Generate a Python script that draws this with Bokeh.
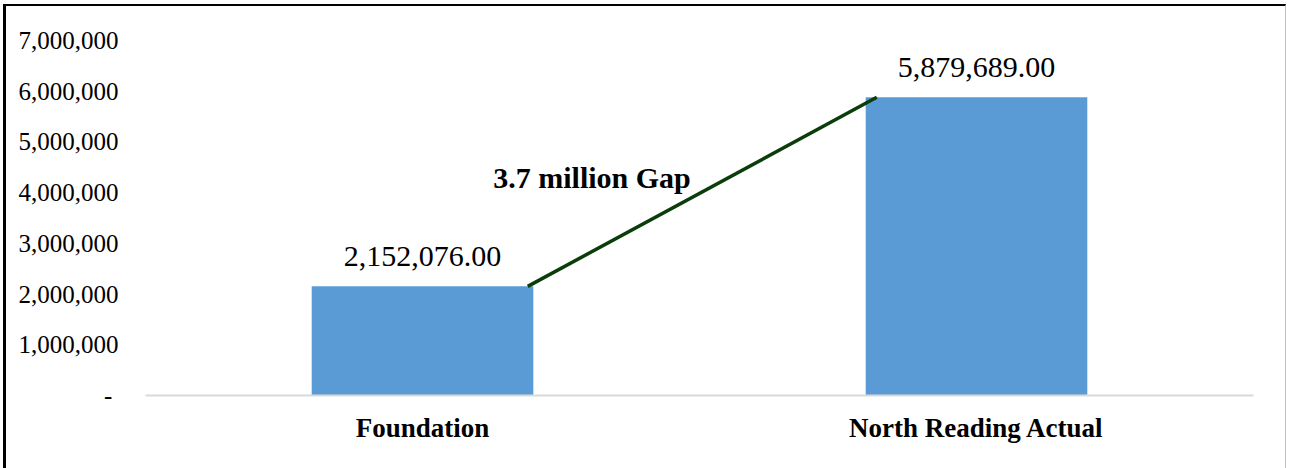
from bokeh.plotting import figure
from bokeh.models import (Range1d, FixedTicker, NumeralTickFormatter, ColumnDataSource,
                          LabelSet, Label)
from bokeh.embed import file_html
from bokeh.resources import INLINE

categories = ["Foundation", "North Reading Actual"]
values = [2152076.00, 5879689.00]
value_labels = ["2,152,076.00", "5,879,689.00"]
y_ticks = [0, 1000000, 2000000, 3000000, 4000000, 5000000, 6000000, 7000000]
gap_text = "3.7 million Gap"

FONT = "Liberation Serif"
BAR = "#5b9bd5"

xs = [i + 0.5 for i in range(len(categories))]
src = ColumnDataSource(dict(x=xs, top=values, label=value_labels))

p = figure(width=1283, height=464, output_backend="svg", toolbar_location=None,
           x_range=Range1d(0, len(categories)), y_range=Range1d(0, 7000000),
           min_border_left=139, min_border_right=36, min_border_top=34, min_border_bottom=75)
p.styles = {"border-left": "3px solid #000000", "border-top": "2px solid #000000",
            "border-right": "1px solid #bfbfbf", "margin-left": "3px", "margin-top": "4px"}
p.outline_line_color = None
p.grid.visible = False

p.vbar(x="x", top="top", width=0.4, source=src, color=BAR, line_color=None)

# connector line between bar tops
p.line([xs[0] + 0.19, xs[1] - 0.18], [values[0], values[1]], line_color="#0a3d0a", line_width=3.5)

p.add_layout(LabelSet(x="x", y="top", text="label", source=src, y_offset=30,
                      text_align="center", text_baseline="middle",
                      text_font=FONT, text_font_size="30px", text_color="#000000"))

p.add_layout(Label(x=0.806, y=4290000, text=gap_text, text_align="center", text_baseline="middle",
                   text_font=FONT, text_font_size="30px", text_font_style="bold", text_color="#000000"))

# y axis
p.yaxis.ticker = FixedTicker(ticks=y_ticks)
p.yaxis.formatter = NumeralTickFormatter(format="0,0")
p.yaxis.major_label_overrides = {0: "- "}
p.yaxis.axis_line_color = None
p.yaxis.major_tick_line_color = None
p.yaxis.minor_tick_line_color = None
p.yaxis.major_label_standoff = 21
p.yaxis.major_label_text_font = FONT
p.yaxis.major_label_text_font_size = "25px"
p.yaxis.major_label_text_color = "#000000"

# x axis
p.xaxis.ticker = FixedTicker(ticks=xs)
p.xaxis.major_label_overrides = {x: c for x, c in zip(xs, categories)}
p.xaxis.axis_line_color = "#d9d9d9"
p.xaxis.axis_line_width = 2
p.xaxis.major_tick_line_color = None
p.xaxis.minor_tick_line_color = None
p.xaxis.major_label_standoff = 11
p.xaxis.major_label_text_font = FONT
p.xaxis.major_label_text_font_size = "27px"
p.xaxis.major_label_text_font_style = "bold"
p.xaxis.major_label_text_color = "#000000"

open("out.html", "w").write(file_html(p, INLINE))
